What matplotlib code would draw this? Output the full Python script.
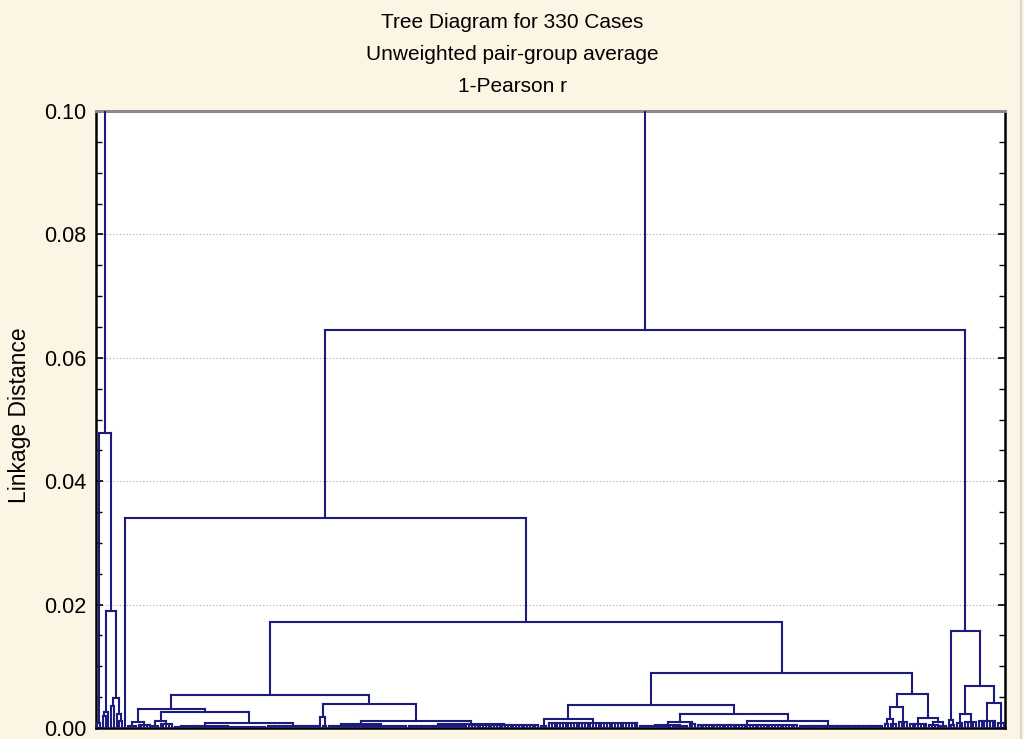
import matplotlib
matplotlib.use('Agg')
import matplotlib.pyplot as plt
from matplotlib.collections import LineCollection
from matplotlib.ticker import MultipleLocator, FixedLocator
from matplotlib.lines import Line2D

plt.rcParams['font.family'] = ['Liberation Sans', 'DejaVu Sans']

# ---------------- data ----------------
n_cases = 330
title_lines = ["Tree Diagram for 330 Cases",
               "Unweighted pair-group average",
               "1-Pearson r"]
y_label = "Linkage Distance"
y_ticks = [0.00, 0.02, 0.04, 0.06, 0.08, 0.10]
y_tick_labels = ["0.00", "0.02", "0.04", "0.06", "0.08", "0.10"]

# internal node = (linkage distance, left, right)
# terminal group = [number of cases, linkage distance]
LEAF = [1, 0.0]

left_branch = (0.0478, [2, 0.0008],
               (0.0190,
                (0.0026, (0.0019, LEAF, LEAF), LEAF),
                (0.0049, (0.0036, LEAF, LEAF),
                 (0.0022, LEAF, (0.0012, LEAF, LEAF)))))

cluster_c = (0.0053,
             (0.0031,
              (0.0009, [4, 0.0004], [5, 0.0005]),
              (0.0026,
               (0.0012, [3, 0.0004], [5, 0.0006]),
               (0.0008,
                (0.0003, [6, 0.0002], [28, 0.0002]),
                [19, 0.0003]))),
             (0.0039,
              (0.0018, LEAF, (0.0004, LEAF, LEAF)),
              (0.0012,
               (0.0006, [10, 0.0003], [19, 0.0004]),
               (0.0007, [22, 0.0004], [26, 0.0005]))))

cluster_f = (0.0089,
             (0.0037,
              (0.0015, [3, 0.0004], [33, 0.0008]),
              (0.0023,
               (0.0010,
                (0.0005, [12, 0.0003], [6, 0.0004]),
                [3, 0.0006]),
               (0.0011,
                [37, 0.0005],
                (0.0004, [6, 0.0003], [25, 0.0004])))),
             (0.0055,
              (0.0034,
               (0.0015, [2, 0.0006], [3, 0.0007]),
               [4, 0.0009]),
              (0.0016,
               [7, 0.0007],
               (0.0009, [4, 0.0005], [3, 0.0004]))))

cluster_g = (0.0157,
             (0.0013, LEAF, [2, 0.0005]),
             (0.0068,
              (0.0022, [3, 0.0008], [5, 0.0010]),
              (0.0040, [7, 0.0012], [3, 0.0008])))

right_branch = (0.0645,
                (0.0340, LEAF, (0.0172, cluster_c, cluster_f)),
                cluster_g)

tree = (0.1200, left_branch, right_branch)

# ---------------- drawing ----------------
W, H = 1024, 739
fig = plt.figure(figsize=(W / 100, H / 100), dpi=100)
fig.patch.set_facecolor('#fdf5e4')

ax = fig.add_axes([96 / W, 1 - 728 / H, (1005 - 96) / W, (728 - 111) / H])
ax.set_facecolor('white')

segments = []
counter = [0]


def layout(node):
    if isinstance(node, list):
        n, h = node
        start = counter[0]
        counter[0] += n
        xs = list(range(start, start + n))
        if n > 1:
            for x in xs:
                segments.append([(x, 0.0), (x, h)])
            segments.append([(xs[0], h), (xs[-1], h)])
        return (xs[0] + xs[-1]) / 2.0, h
    h, left, right = node
    xl, hl = layout(left)
    xr, hr = layout(right)
    segments.append([(xl, hl), (xl, h)])
    segments.append([(xr, hr), (xr, h)])
    segments.append([(xl, h), (xr, h)])
    return (xl + xr) / 2.0, h


layout(tree)

lc = LineCollection(segments, colors='#1c1c7c', linewidths=1.5,
                    capstyle='projecting', zorder=3)
ax.add_collection(lc)

ax.set_xlim(-0.5, n_cases - 0.5)
ax.set_ylim(0.0, 0.10)

ax.set_xticks([])
ax.yaxis.set_major_locator(FixedLocator(y_ticks))
ax.set_yticklabels(y_tick_labels)
ax.yaxis.set_minor_locator(MultipleLocator(0.005))
ax.tick_params(axis='y', which='major', direction='in', length=5, width=1.2,
               right=True, labelsize=15.5, pad=7, colors='black')
ax.tick_params(axis='y', which='minor', direction='in', length=4, width=1.0,
               right=True)

ax.yaxis.grid(True, which='major', linestyle=(0, (1, 2)), color='#a8a8a8',
              linewidth=0.8, zorder=0)
ax.set_axisbelow(True)

for side in ['left', 'right', 'bottom']:
    ax.spines[side].set_color('black')
    ax.spines[side].set_linewidth(1.8)
ax.spines['top'].set_color('#8c8c8c')
ax.spines['top'].set_linewidth(2.2)

title_y = [23, 55, 86]
for txt, py in zip(title_lines, title_y):
    fig.text(0.5, 1 - py / H, txt, ha='center', va='center', fontsize=15,
             color='black')

fig.text(20 / W, 1 - 415 / H, y_label, rotation=90, ha='center', va='center',
         fontsize=16.5, color='black')

fig.add_artist(Line2D([1021 / W, 1021 / W], [0, 1], color='#d8d4cc',
                      linewidth=1.5))

fig.savefig('out.png', dpi=100, facecolor=fig.get_facecolor())
